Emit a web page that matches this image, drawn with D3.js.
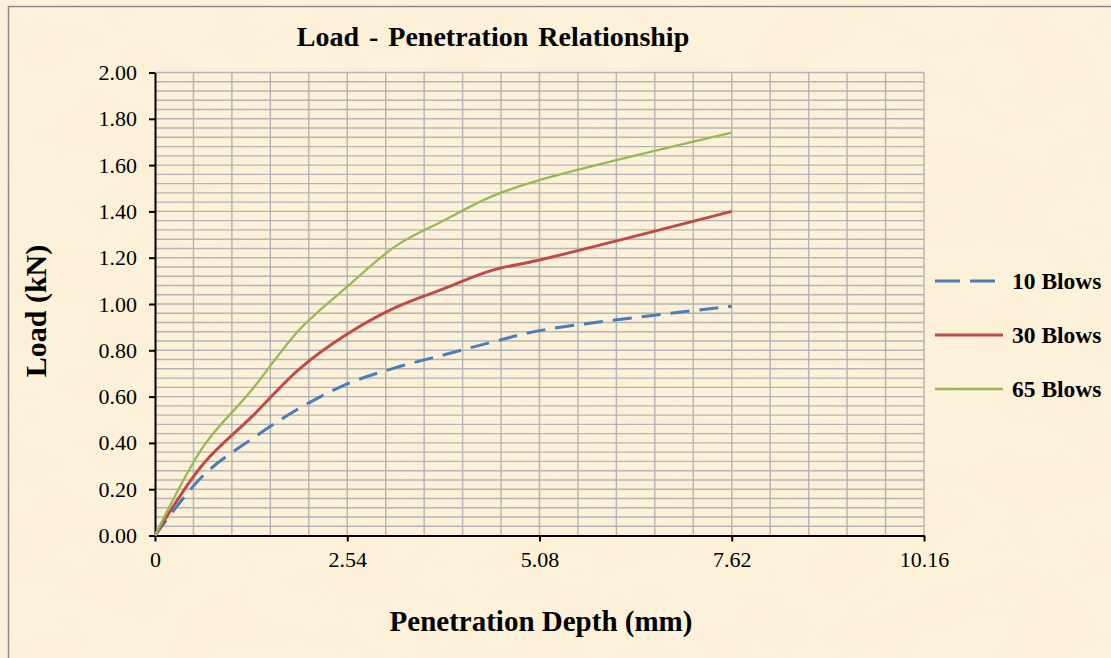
<!DOCTYPE html>
<html>
<head>
<meta charset="utf-8">
<script src="https://cdnjs.cloudflare.com/ajax/libs/d3/7.8.5/d3.min.js"></script>
<style>
  html, body { margin: 0; padding: 0; background: #fcf2da; }
  svg { display: block; }
</style>
</head>
<body>
<svg id="chart" width="1111" height="658"></svg>
<script>
// Penetration depths (mm) at which load was recorded
const penetration = [0, 0.64, 1.27, 1.91, 2.54, 3.18, 3.81, 4.45, 5.08, 7.62];
// Load (kN) for each compaction effort
const blows10 = [0, 0.26, 0.415, 0.55, 0.655, 0.725, 0.78, 0.835, 0.885, 0.99];
const blows30 = [0, 0.31, 0.51, 0.72, 0.87, 0.985, 1.065, 1.145, 1.19, 1.40];
const blows65 = [0, 0.385, 0.625, 0.89, 1.075, 1.25, 1.36, 1.465, 1.535, 1.74];
const seriesNames = ["10 Blows", "30 Blows", "65 Blows"];
const xTicks = [0, 2.54, 5.08, 7.62, 10.16];
const yTicks = [0, 0.2, 0.4, 0.6, 0.8, 1.0, 1.2, 1.4, 1.6, 1.8, 2.0];

const W = 1111, H = 658;
const svg = d3.select("#chart");
const font = "'Liberation Serif', 'Times New Roman', serif";

// parchment background with soft mottling
const defs = svg.append("defs");
const f = defs.append("filter").attr("id", "paper").attr("x", 0).attr("y", 0).attr("width", "100%").attr("height", "100%");
f.append("feTurbulence").attr("type", "fractalNoise").attr("baseFrequency", "0.012 0.02").attr("numOctaves", 3).attr("seed", 7).attr("result", "n");
f.append("feColorMatrix").attr("in", "n").attr("type", "matrix")
  .attr("values", "0 0 0 0 0.99  0 0 0 0 0.92  0 0 0 0 0.76  0.9 0 0 0 -0.35");
svg.append("rect").attr("width", W).attr("height", H).attr("fill", "#fcf1d8");
svg.append("rect").attr("width", W).attr("height", H).attr("filter", "url(#paper)").attr("opacity", 0.7);

// outer frame (left and top edges)
svg.append("path").attr("d", `M8.5,${H} V6.5 H${W}`).attr("fill", "none").attr("stroke", "#8a8a8a").attr("stroke-width", 1.5);

const x = d3.scaleLinear().domain([0, 10.16]).range([155, 924]);
const y = d3.scaleLinear().domain([0, 2]).range([535.5, 72.5]);

// grid: every 0.508 mm and every 0.04 kN
const g = svg.append("g").attr("stroke", "#b4b4b4").attr("stroke-width", 1.4);
g.selectAll(".vg").data(d3.range(1, 21)).join("line")
  .attr("x1", i => x(i * 0.508)).attr("x2", i => x(i * 0.508))
  .attr("y1", y(0)).attr("y2", y(2));
g.selectAll(".hg").data(d3.range(1, 51)).join("line")
  .attr("y1", i => y(i * 0.04)).attr("y2", i => y(i * 0.04))
  .attr("x1", x(0)).attr("x2", x(10.16));

// axes
const xAxis = svg.append("g").attr("transform", `translate(0,${y(0)})`)
  .call(d3.axisBottom(x).tickValues(xTicks).tickFormat(d => d === 0 ? "0" : d.toFixed(2)).tickSize(6).tickSizeOuter(0).tickPadding(10));
const yAxis = svg.append("g").attr("transform", `translate(${x(0)},0)`)
  .call(d3.axisLeft(y).tickValues(yTicks).tickFormat(d => d.toFixed(2)).tickSize(6).tickSizeOuter(0).tickPadding(12));
[xAxis, yAxis].forEach(a => {
  a.select(".domain").attr("stroke", "#000").attr("stroke-width", 2);
  a.selectAll(".tick line").attr("stroke", "#000").attr("stroke-width", 2);
  a.selectAll("text").attr("font-family", font).attr("font-size", 22).attr("fill", "#000");
});

// series
const series = [
  { name: seriesNames[0], values: blows10, color: "#4a7ebb", width: 3, dash: "19 10" },
  { name: seriesNames[1], values: blows30, color: "#be4b48", width: 3, dash: null },
  { name: seriesNames[2], values: blows65, color: "#98b954", width: 2.3, dash: null }
];
const line = d3.line().x((d, i) => x(penetration[i])).y(d => y(d)).curve(d3.curveCatmullRom.alpha(0.5));
series.forEach(s => {
  svg.append("path").datum(s.values).attr("d", line)
    .attr("fill", "none").attr("stroke", s.color).attr("stroke-width", s.width)
    .attr("stroke-dasharray", s.dash).attr("stroke-linejoin", "round");
});

// legend
const legY = [281, 335, 389];
series.forEach((s, i) => {
  svg.append("line").attr("x1", 935).attr("x2", 1003).attr("y1", legY[i]).attr("y2", legY[i])
    .attr("stroke", s.color).attr("stroke-width", s.width).attr("stroke-dasharray", s.dash ? "25 10" : null);
  svg.append("text").attr("x", 1012).attr("y", legY[i]).attr("dy", "0.35em")
    .attr("font-family", font).attr("font-weight", "bold").attr("font-size", 23.5).text(s.name);
});

// titles
svg.append("text").attr("x", 493).attr("y", 46).attr("text-anchor", "middle")
  .attr("font-family", font).attr("font-weight", "bold").attr("font-size", 28).attr("word-spacing", 3)
  .text("Load - Penetration Relationship");
svg.append("text").attr("x", 541).attr("y", 631).attr("text-anchor", "middle")
  .attr("font-family", font).attr("font-weight", "bold").attr("font-size", 29)
  .text("Penetration Depth (mm)");
svg.append("text").attr("transform", "translate(46,311) rotate(-90)").attr("text-anchor", "middle")
  .attr("font-family", font).attr("font-weight", "bold").attr("font-size", 30)
  .text("Load (kN)");
</script>
</body>
</html>
